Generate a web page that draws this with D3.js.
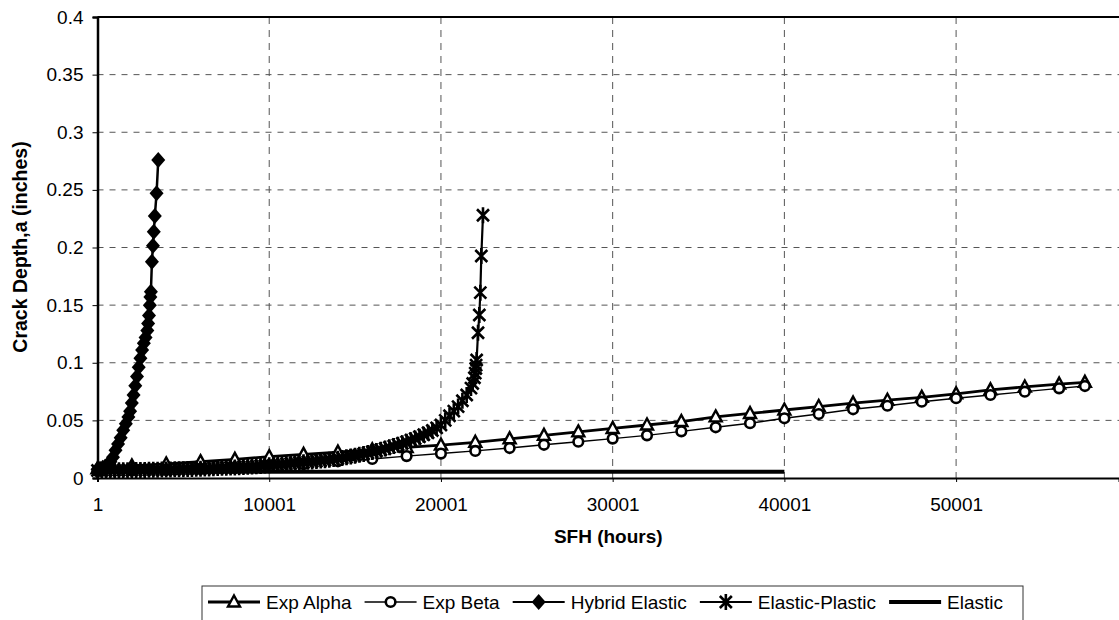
<!DOCTYPE html>
<html><head><meta charset="utf-8">
<script src="https://cdn.jsdelivr.net/npm/d3@7"></script>
<style>
body{margin:0;background:#fff}
svg{display:block}
text{font-family:"Liberation Sans",Arial,Helvetica,sans-serif;fill:#000}
</style>
</head><body>
<svg id="chart" width="1119" height="620"></svg>
<script>
// ---------------- data ----------------
const seriesNames = ["Exp Alpha", "Exp Beta", "Hybrid Elastic", "Elastic-Plastic", "Elastic"];
const xTickValues = [1, 10001, 20001, 30001, 40001, 50001];
const xTickLabels = ["1", "10001", "20001", "30001", "40001", "50001"];
const yTickValues = [0, 0.05, 0.1, 0.15, 0.2, 0.25, 0.3, 0.35, 0.4];
const yTickLabels = ["0", "0.05", "0.1", "0.15", "0.2", "0.25", "0.3", "0.35", "0.4"];
const xTitle = "SFH (hours)";
const yTitle = "Crack Depth,a (inches)";

const expHours = [1, 2001, 4001, 6001, 8001, 10001, 12001, 14001, 16001, 18001, 20001, 22001, 24001, 26001,
  28001, 30001, 32001, 34001, 36001, 38001, 40001, 42001, 44001, 46001, 48001, 50001, 52001, 54001, 56001, 57501];
const expAlpha = [0.008, 0.0105, 0.0122, 0.0142, 0.0162, 0.0185, 0.0205, 0.0225, 0.0245, 0.0265, 0.0285, 0.031,
  0.034, 0.037, 0.040, 0.043, 0.046, 0.049, 0.053, 0.056, 0.059, 0.062, 0.065, 0.0675, 0.070, 0.073, 0.0765,
  0.079, 0.0815, 0.083];
const expBeta = [0.006, 0.0065, 0.007, 0.0078, 0.0088, 0.010, 0.012, 0.0145, 0.0165, 0.019, 0.0212, 0.0235,
  0.026, 0.0288, 0.0315, 0.0342, 0.037, 0.0405, 0.044, 0.0475, 0.0518, 0.0555, 0.0596, 0.0627, 0.0662, 0.0692,
  0.072, 0.0749, 0.0778, 0.0798];

const hybridHours = [1, 150, 300, 450, 600, 750, 900, 1050, 1200, 1350, 1500, 1650, 1800, 1900, 2000, 2100, 2200,
  2300, 2400, 2500, 2600, 2700, 2800, 2900, 2950, 3000, 3050, 3080, 3110, 3170, 3230, 3280, 3340, 3440, 3540];
const hybridValues = [0.0075, 0.008, 0.0088, 0.0100, 0.0117, 0.0140, 0.0180, 0.0240, 0.0295, 0.0350, 0.0415,
  0.047, 0.053, 0.058, 0.065, 0.072, 0.080, 0.088, 0.096, 0.104, 0.111, 0.117, 0.122, 0.128, 0.134, 0.141, 0.150,
  0.157, 0.1617, 0.1877, 0.2016, 0.2137, 0.2273, 0.247, 0.276];

const epHours = [1, 250, 500, 750, 1000, 1250, 1500, 1750, 2000, 2250, 2500, 2750, 3000, 3250, 3500, 3750, 4000,
  4250, 4500, 4750, 5000, 5250, 5500, 5750, 6000, 6250, 6500, 6750, 7000, 7250, 7500, 7750, 8000, 8250, 8500, 8750,
  9000, 9250, 9500, 9750, 10000, 10250, 10500, 10750, 11000, 11250, 11500, 11750, 12000, 12250, 12500, 12750,
  13000, 13250, 13500, 13750, 14000, 14250, 14500, 14750, 15000, 15250, 15500, 15750, 16000, 16250, 16500, 16750,
  17000, 17250, 17500, 17750, 18000, 18250, 18500, 18750, 19000, 19250, 19500, 19750, 20000, 20250, 20500, 20750,
  21000, 21250, 21500, 21750, 21850, 21950, 22000, 22030, 22050, 22080, 22160, 22236, 22294, 22352, 22450];
const epValues = [0.0065, 0.0065, 0.0066, 0.0066, 0.0067, 0.0067, 0.0068, 0.0068, 0.0069, 0.0069, 0.0070, 0.0070,
  0.0071, 0.0071, 0.0072, 0.0073, 0.0074, 0.0074, 0.0075, 0.0076, 0.0077, 0.0078, 0.0079, 0.0080, 0.0081, 0.0082,
  0.0083, 0.0085, 0.0086, 0.0088, 0.0089, 0.0091, 0.0092, 0.0094, 0.0096, 0.0098, 0.0100, 0.0103, 0.0105, 0.0108,
  0.0110, 0.0113, 0.0116, 0.0119, 0.0122, 0.0126, 0.0129, 0.0133, 0.0136, 0.0140, 0.0143, 0.0147, 0.0151, 0.0155,
  0.0159, 0.0164, 0.0168, 0.0174, 0.0180, 0.0187, 0.0194, 0.0201, 0.0209, 0.0217, 0.0226, 0.0235, 0.0245, 0.0255,
  0.0266, 0.0277, 0.0289, 0.0301, 0.0314, 0.0328, 0.0342, 0.0358, 0.0375, 0.0393, 0.0412, 0.0435, 0.046, 0.050,
  0.054, 0.058, 0.062, 0.067, 0.072, 0.078, 0.082, 0.087, 0.091, 0.095, 0.098, 0.1024, 0.126, 0.1414, 0.1608,
  0.1926, 0.228];

const elasticHours = [1, 10001, 20001, 30001, 40001];
const elasticValues = [0.0055, 0.0055, 0.0055, 0.0055, 0.0055];

// ---------------- layout ----------------
const svg = d3.select("#chart");
const W = 1119, H = 620;
const x = d3.scaleLinear().domain([1, 59487]).range([97.5, 1119]);
const y = d3.scaleLinear().domain([0, 0.4]).range([478, 17]);

// gridlines
const grid = svg.append("g");
grid.selectAll("line.h").data(yTickValues.filter(v => v > 0 && v < 0.4)).join("line")
  .attr("x1", x(1)).attr("x2", W).attr("y1", d => y(d)).attr("y2", d => y(d))
  .attr("stroke", "#555").attr("stroke-width", 1).attr("stroke-dasharray", "6,6");
grid.selectAll("line.v").data(xTickValues.filter(v => v > 1)).join("line")
  .attr("x1", d => x(d)).attr("x2", d => x(d)).attr("y1", y(0.4)).attr("y2", y(0))
  .attr("stroke", "#555").attr("stroke-width", 1).attr("stroke-dasharray", "7,6");

// top border
svg.append("line").attr("x1", x(1)).attr("x2", W).attr("y1", y(0.4)).attr("y2", y(0.4))
  .attr("stroke", "#000").attr("stroke-width", 2);

// axes
const yAxis = d3.axisLeft(y).tickValues(yTickValues).tickFormat((d, i) => yTickLabels[i]).tickSize(5).tickPadding(9);
const gy = svg.append("g").attr("transform", `translate(${x(1)},0)`).call(yAxis);
gy.select(".domain").attr("stroke-width", 2.5).attr("stroke", "#000");
gy.selectAll(".tick line").attr("stroke", "#000").attr("stroke-width", 1);
gy.selectAll(".tick text").attr("font-size", 19).attr("font-family", "Liberation Sans, Arial, sans-serif");

const xAxis = d3.axisBottom(x).tickValues(xTickValues).tickFormat((d, i) => xTickLabels[i]).tickSize(4).tickPadding(16);
const gx = svg.append("g").attr("transform", `translate(0,${y(0)})`).call(xAxis);
gx.select(".domain").attr("stroke-width", 2).attr("stroke", "#000");
gx.selectAll(".tick line").attr("stroke", "#000").attr("stroke-width", 1);
gx.selectAll(".tick text").attr("font-size", 19).attr("font-family", "Liberation Sans, Arial, sans-serif");

// titles
svg.append("text").attr("x", (x(1) + W) / 2).attr("y", 543).attr("text-anchor", "middle")
  .attr("font-size", 19).attr("font-weight", "bold").text(xTitle);
svg.append("text").attr("transform", "translate(27,247) rotate(-90)").attr("text-anchor", "middle")
  .attr("font-size", 19.5).attr("font-weight", "bold").text(yTitle);

// ---------------- markers ----------------
const triPath = "M0,-6.5L6,4.5L-6,4.5Z";
const diamondPath = "M0,-8L7,0L0,8L-7,0Z";
const starPath = "M-6,-6L6,6M-6,6L6,-6M0,-8L0,8";
function drawTri(g, px, py) {
  g.append("path").attr("d", triPath).attr("transform", `translate(${px},${py})`)
    .attr("fill", "#fff").attr("stroke", "#000").attr("stroke-width", 2.4).attr("stroke-linejoin", "miter");
}
function drawCircle(g, px, py) {
  g.append("circle").attr("cx", px).attr("cy", py).attr("r", 4.8)
    .attr("fill", "#fff").attr("stroke", "#000").attr("stroke-width", 2.6);
}
function drawDiamond(g, px, py) {
  g.append("path").attr("d", diamondPath).attr("transform", `translate(${px},${py})`).attr("fill", "#000");
}
function drawStar(g, px, py) {
  g.append("path").attr("d", starPath).attr("transform", `translate(${px},${py})`)
    .attr("fill", "none").attr("stroke", "#000").attr("stroke-width", 2.6);
}

const line = d3.line().x(d => x(d[0])).y(d => y(d[1]));
const plot = svg.append("g");

function series(hours, vals, lw, marker) {
  const pts = hours.map((h, i) => [h, vals[i]]);
  plot.append("path").datum(pts).attr("d", line).attr("fill", "none")
    .attr("stroke", "#000").attr("stroke-width", lw).attr("stroke-linejoin", "round");
  if (marker) {
    const g = plot.append("g");
    pts.forEach(p => marker(g, x(p[0]), y(p[1])));
  }
}
series(expHours, expAlpha, 2.8, drawTri);
series(expHours, expBeta, 1.4, drawCircle);
series(hybridHours, hybridValues, 2.5, drawDiamond);
series(epHours, epValues, 2.2, drawStar);
series(elasticHours, elasticValues, 4, null);

// ---------------- legend ----------------
const lg = svg.append("g");
lg.append("rect").attr("x", 202).attr("y", 586).attr("width", 821).attr("height", 50)
  .attr("fill", "#fff").attr("stroke", "#333").attr("stroke-width", 1);
const markers = [drawTri, drawCircle, drawDiamond, drawStar, null];
const widths = [2.8, 1.4, 2, 2, 4];
let cx = 208;
const ly = 602;
seriesNames.forEach((name, i) => {
  lg.append("line").attr("x1", cx).attr("x2", cx + 52).attr("y1", ly).attr("y2", ly)
    .attr("stroke", "#000").attr("stroke-width", widths[i]);
  if (markers[i]) markers[i](lg, cx + 26, ly);
  const t = lg.append("text").attr("x", cx + 58).attr("y", ly + 7).attr("font-size", 19).text(name);
  cx += 58 + t.node().getComputedTextLength() + 13;
});
</script>
</body></html>
